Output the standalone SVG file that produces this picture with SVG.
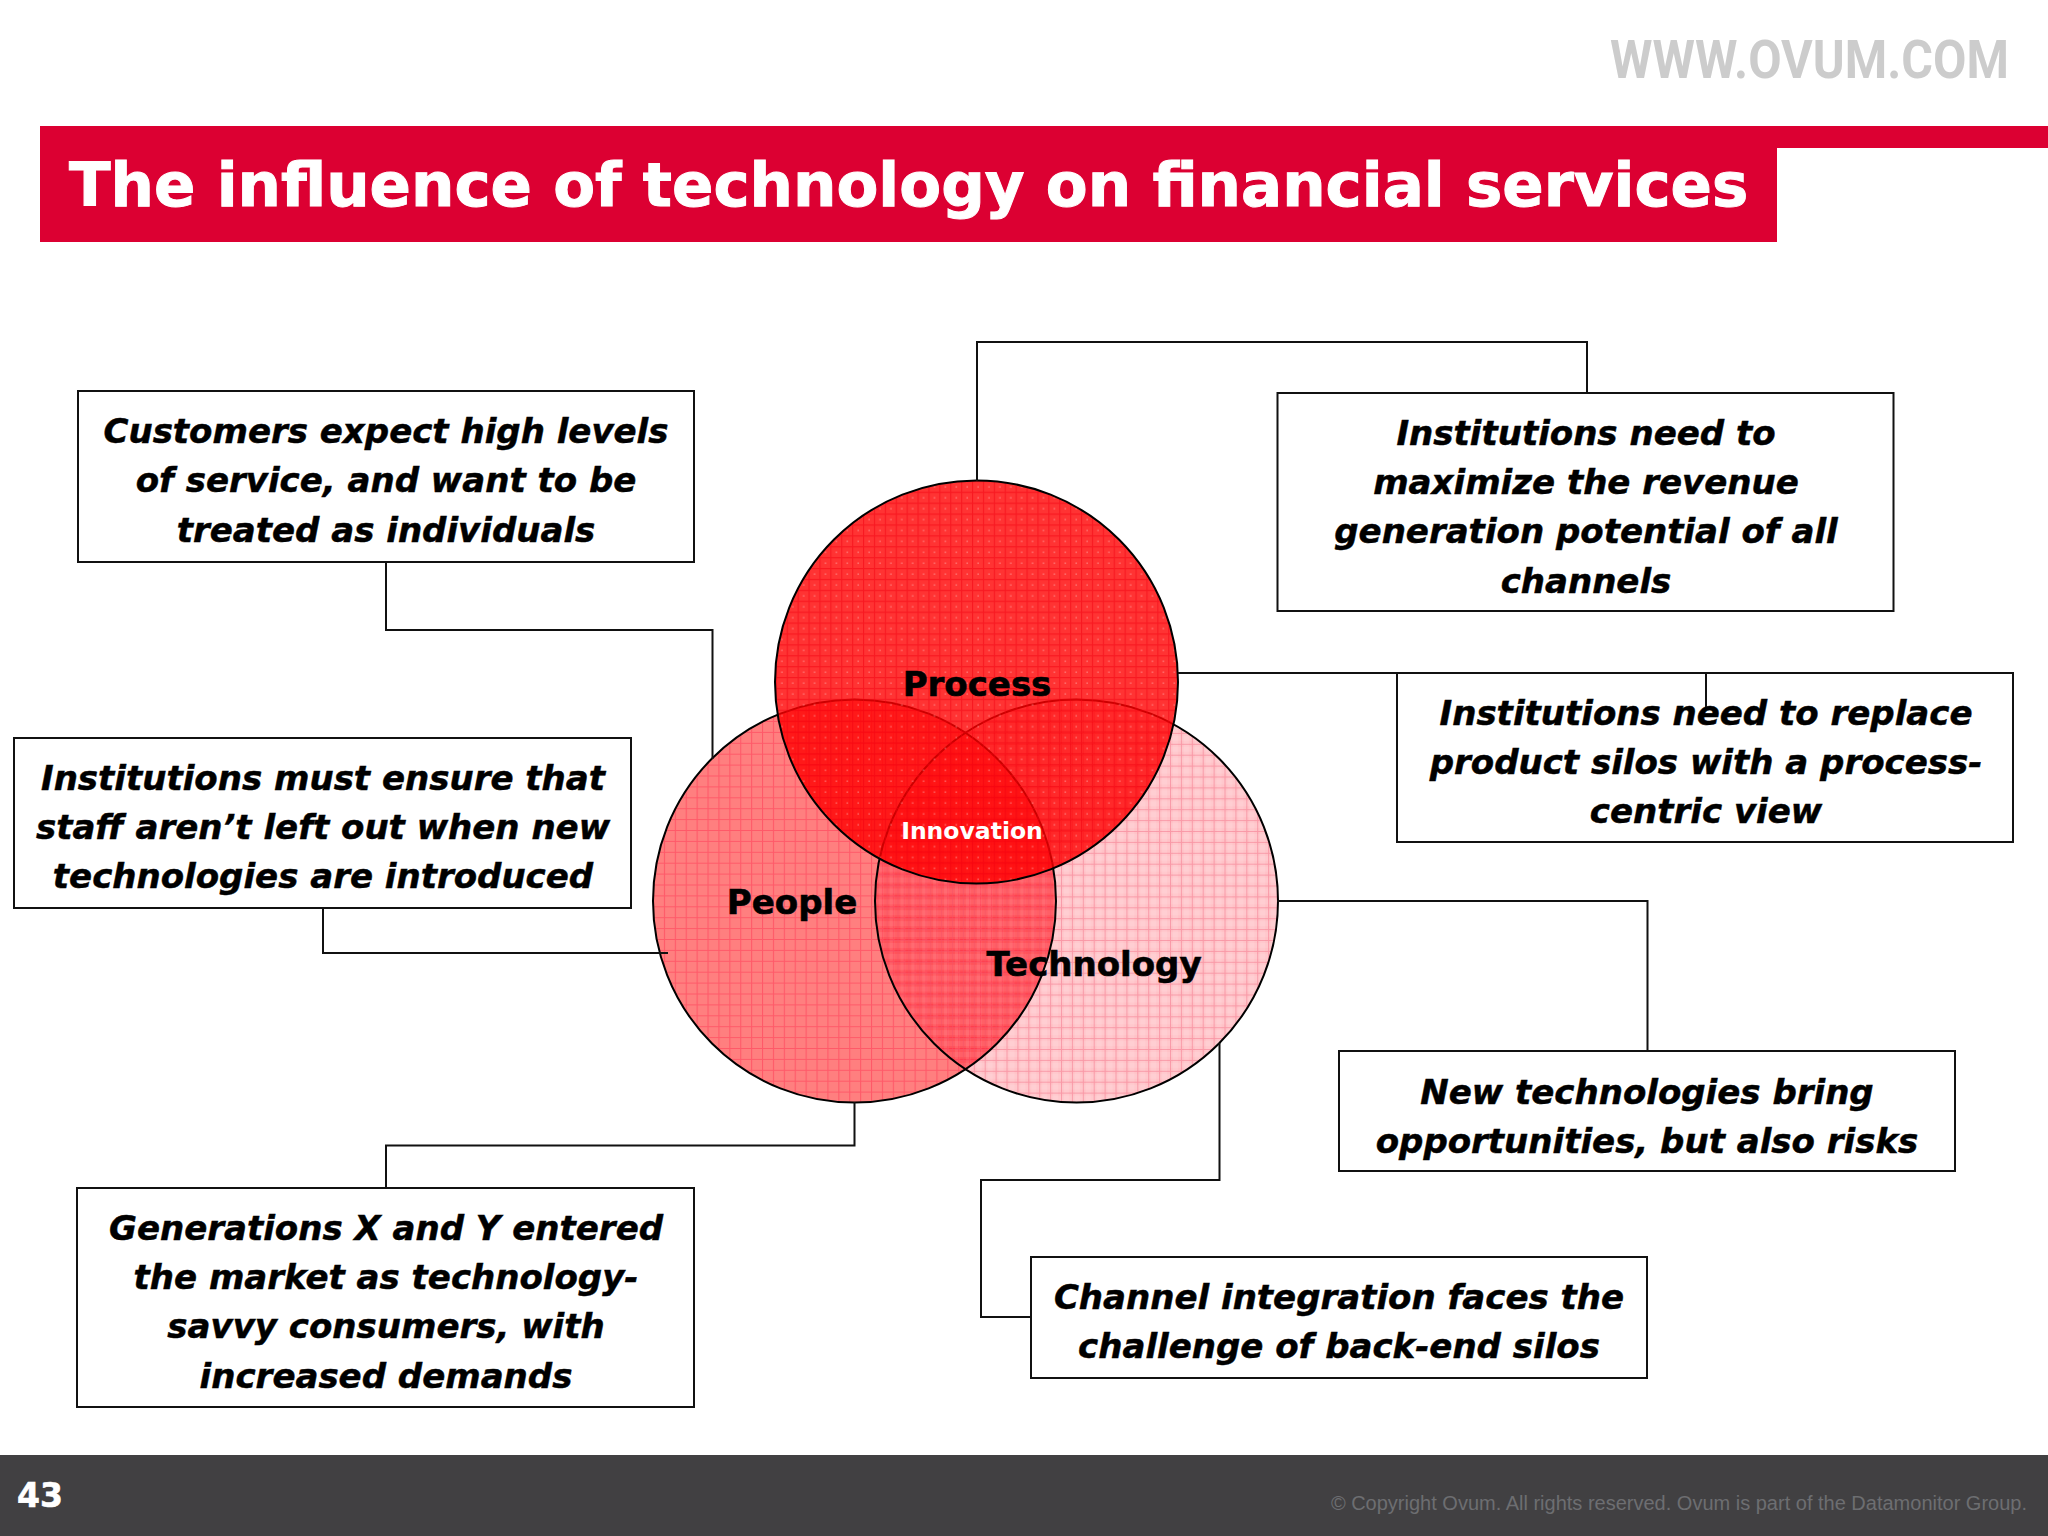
<svg xmlns="http://www.w3.org/2000/svg" width="2048" height="1536" viewBox="0 0 2048 1536">
<style>
.box{fill:#fff;stroke:#111;stroke-width:2}
.t{font-family:"DejaVu Sans",Verdana,sans-serif;font-weight:bold;font-style:italic;font-size:34px;text-anchor:middle;fill:#000;stroke:#000;stroke-width:0.5}
.c{fill:none;stroke:#111;stroke-width:2}
.v{font-family:"DejaVu Sans",Verdana,sans-serif;font-weight:bold;font-size:34px;text-anchor:middle;fill:#000;stroke:#000;stroke-width:0.6}
.ring{fill:none;stroke:#000;stroke-width:2}
</style>
<defs>
<pattern id="gridP" x="729.300" y="971.700" width="10.900" height="10.900" patternUnits="userSpaceOnUse">
<path d="M0.500 0V10.900M0 0.500H10.900" stroke="#ff3a55" stroke-opacity="0.55" stroke-width="1.200" fill="none"/>
</pattern>
<pattern id="gridT" x="1137.300" y="972.700" width="10.900" height="10.900" patternUnits="userSpaceOnUse">
<rect x="3" y="0" width="5" height="10.900" fill="#fff" fill-opacity="0.1"/>
<rect x="0" y="3" width="10.900" height="5" fill="#fff" fill-opacity="0.1"/>
<path d="M0.500 0V10.900M0 0.500H10.900" stroke="#f0607a" stroke-opacity="0.42" stroke-width="1.100" fill="none"/>
</pattern>
<pattern id="gridR" x="1004.700" y="491.700" width="10.900" height="10.900" patternUnits="userSpaceOnUse">
<path d="M0.500 0V10.900M0 0.500H10.900" stroke="#f20010" stroke-opacity="0.5" stroke-width="1.300" fill="none"/>
<rect x="5.500" y="5.500" width="1.200" height="1.200" fill="#ffc0c0" fill-opacity="0.7"/>
</pattern>
<clipPath id="inPeople"><circle cx="854.500" cy="901" r="201.500"/></clipPath>
</defs>
<rect width="2048" height="1536" fill="#fff"/>
<g id="header">
<text x="1610" y="78" font-family="Roboto,sans-serif" font-weight="bold" font-size="53" fill="#cccccc" textLength="399" lengthAdjust="spacingAndGlyphs">WWW.OVUM.COM</text>
<rect x="1777" y="126" width="271" height="22" fill="#dc0032"/>
<rect x="40" y="126" width="1737" height="116" fill="#dc0032"/>
<text x="69" y="206" font-family="'DejaVu Sans',Verdana,sans-serif" font-weight="bold" font-size="61" fill="#fff" stroke="#fff" stroke-width="1">The influence of technology on financial services</text>
</g>
<g id="venn">
<g id="people"><circle cx="854.500" cy="901" r="201.500" fill="#ff0000" fill-opacity="0.5"/><circle cx="854.500" cy="901" r="201.500" fill="url(#gridP)"/></g>
<g id="technology"><circle cx="1076.500" cy="901" r="201.500" fill="#ff0a20" fill-opacity="0.25"/><circle cx="1076.500" cy="901" r="201.500" fill="url(#gridT)"/>
<circle cx="1076.500" cy="901" r="201.500" fill="#ff0010" fill-opacity="0.16" clip-path="url(#inPeople)"/></g>
<circle class="ring" cx="854.500" cy="901" r="201.500"/>
<circle class="ring" cx="1076.500" cy="901" r="201.500"/>
<g id="process"><circle cx="976.500" cy="682" r="201.500" fill="#ff0000" fill-opacity="0.8"/><circle cx="976.500" cy="682" r="201.500" fill="url(#gridR)"/></g>
<circle class="ring" cx="976.500" cy="682" r="201.500"/>
<text class="v" x="977" y="696">Process</text>
<text class="v" x="792" y="914">People</text>
<text class="v" x="1094" y="976">Technology</text>
<text x="972" y="839" font-family="'DejaVu Sans',Verdana,sans-serif" font-weight="bold" font-size="23.500" text-anchor="middle" fill="#fff">Innovation</text>
</g>
<g id="box1"><rect class="box" x="78" y="391" width="616" height="171"/>
<text class="t" x="386" y="443">Customers expect high levels</text><text class="t" x="386" y="492">of service, and want to be</text><text class="t" x="386" y="541.500">treated as individuals</text></g>
<g id="box2"><rect class="box" x="14" y="738" width="617" height="170"/>
<text class="t" x="323" y="790">Institutions must ensure that</text><text class="t" x="323" y="839">staff aren’t left out when new</text><text class="t" x="323" y="888">technologies are introduced</text></g>
<g id="box3"><rect class="box" x="77" y="1188" width="617" height="219"/>
<text class="t" x="386" y="1240">Generations X and Y entered</text><text class="t" x="386" y="1289">the market as technology-</text><text class="t" x="386" y="1338">savvy consumers, with</text><text class="t" x="386" y="1387.500">increased demands</text></g>
<g id="box4"><rect class="box" x="1277.500" y="393" width="616" height="218"/>
<text class="t" x="1586" y="445">Institutions need to</text><text class="t" x="1586" y="494">maximize the revenue</text><text class="t" x="1586" y="543">generation potential of all</text><text class="t" x="1586" y="592.500">channels</text></g>
<g id="box5"><rect class="box" x="1397" y="673" width="616" height="169"/>
<text class="t" x="1706" y="725">Institutions need to replace</text><text class="t" x="1706" y="774">product silos with a process-</text><text class="t" x="1706" y="822.500">centric view</text></g>
<g id="box6"><rect class="box" x="1339" y="1051" width="616" height="120"/>
<text class="t" x="1647" y="1103.500">New technologies bring</text><text class="t" x="1647" y="1152.500">opportunities, but also risks</text></g>
<g id="box7"><rect class="box" x="1031" y="1257" width="616" height="121"/>
<text class="t" x="1339" y="1308.500">Channel integration faces the</text><text class="t" x="1339" y="1357.500">challenge of back-end silos</text></g>
<g id="connectors">
<path class="c" d="M386 562V630H712.500V759"/>
<path class="c" d="M323 908V953H668"/>
<path class="c" d="M854.500 1102V1145.500H386V1188"/>
<path class="c" d="M977 481V342H1587V393"/>
<path class="c" d="M1178 673H1706V707"/>
<path class="c" d="M1277 901H1647.500V1051"/>
<path class="c" d="M1219.500 1043V1180H981V1317H1031"/>
</g>
<g id="footer">
<rect y="1455" width="2048" height="81" fill="#414042"/>
<text x="17" y="1507" font-family="'DejaVu Sans',sans-serif" font-weight="bold" font-size="33" fill="#fff" stroke="#fff" stroke-width="0.6">43</text>
<text x="2027" y="1510" font-family="'Liberation Sans',Arial,sans-serif" font-size="20" text-anchor="end" fill="#6d6e71">© Copyright Ovum. All rights reserved. Ovum is part of the Datamonitor Group.</text>
</g>
</svg>
